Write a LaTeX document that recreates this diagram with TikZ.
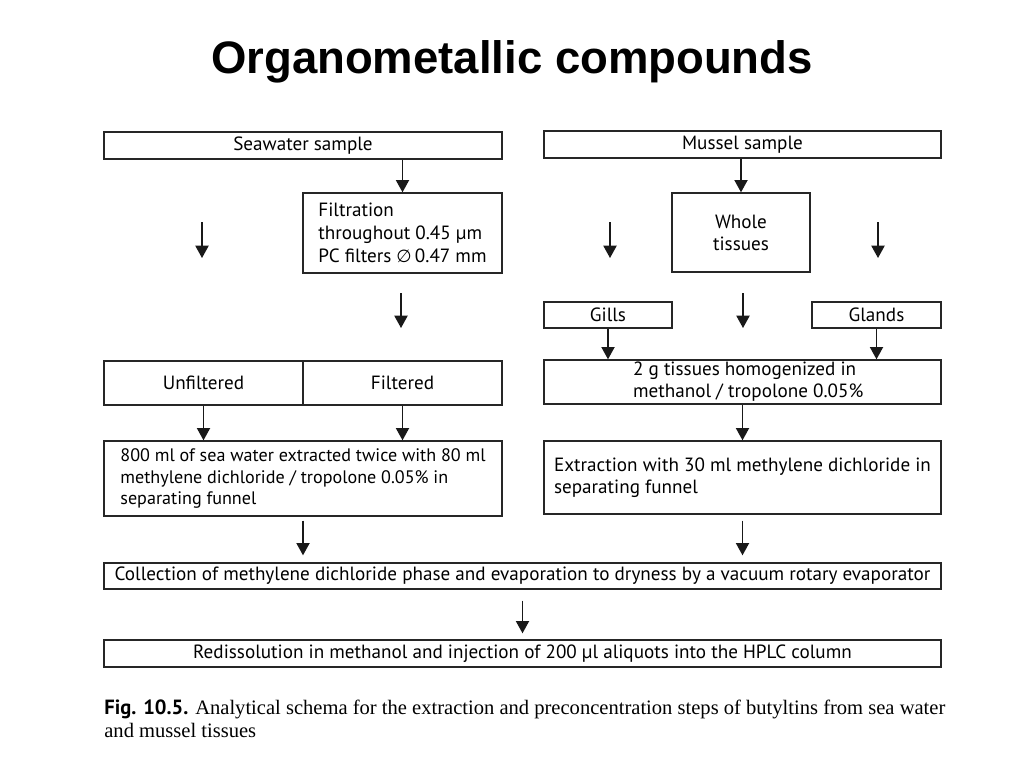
\documentclass[tikz,border=0pt]{standalone}
\usepackage{fontspec}
\setmainfont{PT Sans}
\newfontfamily\titlefont{Liberation Sans}
\newfontfamily\capserif{Liberation Serif}
\newfontfamily\symfont{DejaVu Sans}
\usetikzlibrary{arrows.meta}
\tikzset{
  box/.style={draw=black!85, line width=0.8pt, inner sep=0pt, align=center},
  arr/.style={draw=black!90, line width=0.8pt, -{Triangle[length=7pt,width=7.5pt]}},
  bodyfont/.style={font=\fontsize{10.9}{12.5}\selectfont},
}
\newcommand\pbox[7][]{\node[box,#1, minimum width={(#5-#3)*0.02cm}, minimum height={(#6-#4)*0.02cm}] (#2) at ({(#3+#5)/2},{(#4+#6)/2}) {#7};}
\begin{document}
\begin{tikzpicture}[x=0.02cm, y=-0.02cm, bodyfont]
\useasboundingbox (0,0) rectangle (1024,768);
\node[font=\titlefont\bfseries\fontsize{25.9}{30}\selectfont] (title) at (512,62) {Organometallic compounds};
% top
\pbox{sea}{104}{132}{502}{159}{Seawater sample}
\pbox{mus}{544}{131}{941}{158}{Mussel sample}
\pbox[align=left, font=\fontsize{10.9}{13}\selectfont]{fil}{303}{193}{502}{273}{Filtration\\throughout 0.45 µm\\PC filters {\symfont\fontsize{10}{12}\selectfont ∅}\,0.47 mm}
\pbox{who}{672}{193}{810}{272}{Whole\\tissues}
\pbox{gil}{544}{302}{672}{328}{Gills}
\pbox{gla}{812}{302}{941}{328}{Glands}
\pbox{unf}{104}{361}{303}{405}{Unfiltered}
\pbox{flt}{303}{361}{502}{405}{Filtered}
\pbox[align=left]{hom}{544}{360}{941}{404}{\hspace*{0.6em}2 g tissues homogenized in\\\hspace*{0.6em}methanol / tropolone 0.05\%}
\pbox[align=left, font=\fontsize{10.3}{12}\selectfont]{exa}{104}{441}{502}{516}{800 ml of sea water extracted twice with 80 ml\\methylene dichloride / tropolone 0.05\% in\\separating funnel}
\pbox[align=left]{exb}{544}{441}{941}{514}{Extraction with 30 ml methylene dichloride in\\separating funnel}
\pbox{col}{104}{563}{941}{589}{Collection of methylene dichloride phase and evaporation to dryness by a vacuum rotary evaporator}
\pbox{red}{104}{640}{941}{667}{Redissolution in methanol and injection of 200 µl aliquots into the HPLC column}
% free arrow ends
\coordinate (l1s) at (202,222); \coordinate (l1e) at (202,258);
\coordinate (l2s) at (401,293); \coordinate (l2e) at (401,328);
\coordinate (r1s) at (610,222); \coordinate (r1e) at (610,258);
\coordinate (r2s) at (878,222); \coordinate (r2e) at (878,258);
\coordinate (r3s) at (743,293); \coordinate (r3e) at (743,328);
% arrows
\draw[arr] (sea.south -| fil.north) -- (fil.north);
\draw[arr] (mus.south -| who.north) -- (who.north);
\draw[arr] (l1s) -- (l1e);
\draw[arr] (l2s) -- (l2e);
\draw[arr] (r1s) -- (r1e);
\draw[arr] (r2s) -- (r2e);
\draw[arr] (r3s) -- (r3e);
\draw[arr] (gil.south) -- (gil.south |- hom.north);
\draw[arr] (gla.south) -- (gla.south |- hom.north);
\draw[arr] (unf.south) -- (unf.south |- exa.north);
\draw[arr] (flt.south) -- (flt.south |- exa.north);
\draw[arr] (hom.south -| exb.north) -- (exb.north);
\draw[arr, shorten <=0.08cm, shorten >=0.14cm] (exa.south) -- (exa.south |- col.north);
\draw[arr, shorten <=0.12cm, shorten >=0.14cm] (exb.south) -- (exb.south |- col.north);
\draw[arr, shorten <=0.22cm, shorten >=0.12cm] (col.south) -- (col.south |- red.north);
% caption
\node[anchor=north west, align=left, inner sep=0pt, font=\capserif\fontsize{11.7}{13.2}\selectfont] (cap) at (104,699)
 {{\rmfamily\bfseries Fig. 10.5.} Analytical schema for the extraction and preconcentration steps of butyltins from sea water\\and mussel tissues};
\end{tikzpicture}
\end{document}
